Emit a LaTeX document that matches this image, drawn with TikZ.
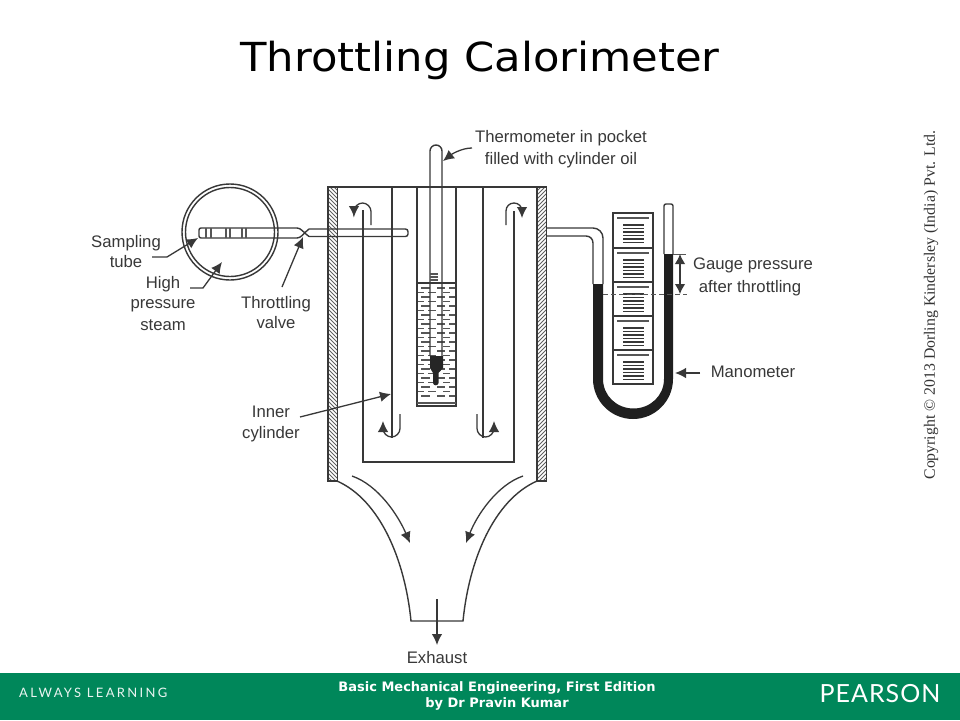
\documentclass[tikz,border=0pt]{standalone}
\usepackage{fontspec}
\setmainfont{Liberation Sans}
\newfontfamily\titlefont{DejaVu Sans}
\newfontfamily\serifcopy{Liberation Serif}
\newfontfamily\logofont{Lato}
\usetikzlibrary{arrows.meta}
\definecolor{band}{RGB}{0,135,90}
\definecolor{ink}{gray}{0.22}
\definecolor{lbl}{gray}{0.22}
\tikzset{
  ln/.style={draw=ink,line width=1.4pt},
  thinln/.style={draw=ink!85,line width=1.1pt},
  lead/.style={draw=ink,line width=1.3pt,-{Latex[length=11pt,width=10.5pt]}},
  lbltext/.style={text=lbl,font=\fontsize{16.7}{18}\selectfont,inner sep=0pt,anchor=base},
  hatch/.style={draw=ink!80,line width=1pt},
}
\begin{document}
\begin{tikzpicture}[x=1pt,y=-1pt]
\useasboundingbox (0,0) rectangle (960,720);
\fill[white] (0,0) rectangle (960,720);
% title
\node[inner sep=0pt,anchor=base,xscale=1.083,font=\titlefont\fontsize{40}{48}\selectfont,text=black] (title) at (480,71) {Throttling Calorimeter};
\node[inner sep=0pt,rotate=90,font=\serifcopy\fontsize{15.8}{18}\selectfont,text=black!80] (copy) at (931,305) {Copyright © 2013 Dorling Kindersley (India) Pvt. Ltd.};
% footer
\fill[band] (0,673) rectangle (960,720);
\node[inner sep=0pt,anchor=base west,text=white!92!band,font=\logofont\fontsize{13}{14}\selectfont\addfontfeatures{LetterSpace=18}] (always) at (19,697) {ALWAYS LEARNING};
\node[inner sep=0pt,anchor=base,text=white,font=\titlefont\bfseries\fontsize{13}{15}\selectfont] (book) at (497,691.5) {Basic Mechanical Engineering, First Edition};
\node[inner sep=0pt,anchor=base,text=white,font=\titlefont\bfseries\fontsize{13}{15}\selectfont] (author) at (497,707.5) {by Dr Pravin Kumar};
\node[inner sep=0pt,anchor=base,text=white,font=\logofont\fontsize{25}{30}\selectfont\addfontfeatures{LetterSpace=4}] (pearson) at (880,702) {PEARSON};
% sampling chamber
\draw[ln] (230,232) circle (48);
\draw[ln] (230,232) circle (44.5);
% sampling tube
\draw[ln,rounded corners=2pt] (297,228) -- (199,228) -- (199,238) -- (297,238);
\draw[ln] (297,228) .. controls (301,228) and (303,232) .. (309,236.5);
\draw[ln] (297,238) .. controls (301,238) and (303,234) .. (309,229);
\foreach \a/\b in {206/211,226/230,242/246}{
  \draw[thinln] (\a,228) -- (\a,238) (\b,228) -- (\b,238);
}
% walls
\foreach \x/\s in {328/1,537/-1}{
  \begin{scope}
    \clip (\x,187) rectangle (\x+9.5,481);
    \foreach \k in {-4,...,76}{
      \ifnum\s=1
        \draw[hatch] (\x-2,187+\k*4) -- (\x+12,201+\k*4);
      \else
        \draw[hatch] (\x-2,201+\k*4) -- (\x+12,187+\k*4);
      \fi
    }
  \end{scope}
  \draw[ln] (\x,187) rectangle (\x+9.5,481);
}
\draw[ln] (337,187) -- (537,187);
\draw[ln,rounded corners=2.5pt] (309,229) -- (408,229) -- (408,236.5) -- (309,236.5);
% cylinders
\draw[ln] (363,210) -- (363,462) -- (514,462) -- (514,211);
\draw[ln] (392,187) -- (392,438);
\draw[ln] (483,187) -- (483,438);
% flow hooks
\draw[lead] (371,225) -- (371,211.5) .. controls (371,207) and (367,203) .. (362.5,203) .. controls (358,203) and (354,207) .. (354,211.5) -- (354,217);
\draw[lead] (506,225) -- (506,211) .. controls (506,206.5) and (509.5,203) .. (514,203) .. controls (518.5,203) and (522,206.5) .. (522,211) -- (522,218);
\draw[lead] (400,414) -- (400,428.5) .. controls (400,433) and (396,437) .. (391.5,437) .. controls (387,437) and (383,433) .. (383,428.5) -- (383,421);
\draw[lead] (477,414) -- (477,428.5) .. controls (477,433) and (481,437) .. (485.5,437) .. controls (490,437) and (494,433) .. (494,428.5) -- (494,421);
% pocket
\draw[ln] (417,187) -- (417,406) -- (456,406) -- (456,187);
\draw[thinln] (417,403) -- (456,403);
\draw[ln] (417,283) -- (456,283);
% liquid dashes
\foreach \y [count=\i] in {288,292.5,...,400}{
  \pgfmathparse{int(mod(\i,2))}
  \ifnum\pgfmathresult=0
    \draw[thinln] (418,\y) -- (424,\y) (428,\y) -- (436,\y) (443,\y) -- (450,\y);
  \else
    \draw[thinln] (421,\y) -- (430,\y) (437,\y) -- (445,\y) (449,\y) -- (455,\y);
  \fi
}
% thermometer
\draw[ln] (430,356) -- (430,151) .. controls (430,147.7) and (432.7,145) .. (436,145) .. controls (439.3,145) and (442,147.7) .. (442,151) -- (442,356);
\foreach \y in {274,277,280}{\draw[thinln] (430,\y) -- (438,\y);}
\fill[black!85] (430,356) -- (443,356) -- (443,368) -- (438.5,373) -- (438.5,383) .. controls (438.5,386) and (433,386) .. (433,383) -- (433,373) -- (430,368) -- cycle;
% funnel
\draw[ln] (337,481) .. controls (380,500) and (405,560) .. (411,621) -- (463,621) .. controls (469,560) and (494,500) .. (537,481);
% flow arrows
\draw[lead] (352,476) .. controls (378,485) and (398,515) .. (410,543);
\draw[lead] (523,476) .. controls (497,485) and (477,515) .. (466,543);
% manometer
\draw[ln] (547,228) -- (593,228) .. controls (598.5,228) and (603,232.5) .. (603,238) -- (603,284);
\draw[ln] (547,236) -- (586,236) .. controls (590,236) and (593,239) .. (593,243) -- (593,284);
\draw[ln,rounded corners=2pt] (664,254) -- (664,204) -- (673,204) -- (673,254);
\fill[black!88] (593,284) -- (603,284) -- (603,379) .. controls (603,395.5) and (616.5,408.5) .. (633.5,408.5) .. controls (650.5,408.5) and (664,395.5) .. (664,379) -- (664,254) -- (673,254) -- (673,379) .. controls (673,401) and (655,419) .. (633,419) .. controls (611,419) and (593,401) .. (593,379) -- cycle;
% scale
\draw[ln] (613,213) rectangle (653,384);
\foreach \y in {248,282,316,350}{\draw[ln] (613,\y) -- (653,\y);}
\foreach \y in {213,248,282,316,350}{
  \draw[thinln] (617,\y+5) -- (649,\y+5);
  \foreach \d in {12,15.5,19,22.5,26,29.5}{\draw[draw=ink,line width=1.1pt] (623,\y+\d) -- (644,\y+\d);}
}
% gauge marks
\draw[ink!85,line width=1pt,dash pattern=on 5pt off 3pt] (603,294) -- (687,294);
\draw[ink!85,line width=1pt] (673,254) -- (686,254);
\coordinate (gtop) at (680,254);
\coordinate (gbot) at (680,294);
\draw[ink,line width=1.3pt,{Latex[length=10pt,width=10.5pt]}-{Latex[length=10pt,width=10.5pt]}] (gtop) -- (gbot);
% labels
\node[lbltext] (therm1) at (561,142) {Thermometer in pocket};
\node[lbltext] (therm2) at (561,164) {filled with cylinder oil};
\node[lbltext] (samp1) at (126,247) {Sampling};
\node[lbltext] (samp2) at (126,267) {tube};
\node[lbltext] (hp1) at (163,288) {High};
\node[lbltext] (hp2) at (163,308) {pressure};
\node[lbltext] (hp3) at (163,330) {steam};
\node[lbltext] (tv1) at (276,308) {Throttling};
\node[lbltext] (tv2) at (276,328) {valve};
\node[lbltext] (ic1) at (271,417) {Inner};
\node[lbltext] (ic2) at (271,438) {cylinder};
\node[lbltext] (g1) at (753,269) {Gauge pressure};
\node[lbltext] (g2) at (750,292) {after throttling};
\node[lbltext] (man) at (753,377) {Manometer};
\node[lbltext] (exh) at (437,663) {Exhaust};
% leaders
\coordinate (tTherm) at (443,161);
\coordinate (tSamp) at (198,238);
\coordinate (tHP) at (222,262);
\coordinate (tValve) at (303,237);
\coordinate (tInner) at (391,394);
\coordinate (tMan) at (675,373);
\coordinate (tExh) at (437,645);
\coordinate (exStart) at (437,599);
\coordinate (sThm) at (472,148);
\coordinate (sSamp) at (152,257);
\coordinate (sHP) at (190,288);
\coordinate (sValve) at (282,287);
\coordinate (sInner) at (300,417);
\coordinate (sMan) at (700,373);
\draw[lead] (sThm) .. controls (462,148) and (452,154) .. (tTherm);
\draw[lead] (sSamp) -- (167,257) -- (tSamp);
\draw[lead] (sHP) -- (203,288) -- (tHP);
\draw[lead] (sValve) -- (tValve);
\draw[lead] (sInner) -- (tInner);
\draw[lead] (sMan) -- (tMan);
\draw[lead] (exStart) -- (tExh);
\end{tikzpicture}
\end{document}
